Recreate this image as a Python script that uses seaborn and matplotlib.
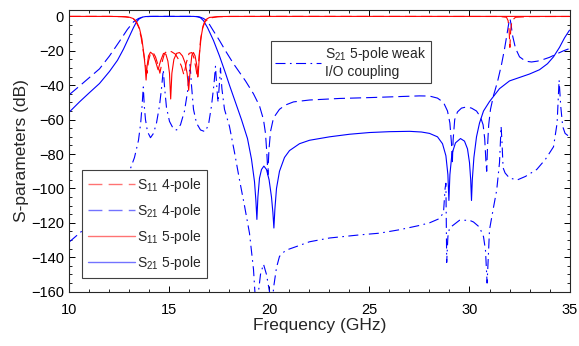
import numpy as np
import pandas as pd
import matplotlib
matplotlib.use("Agg")
import matplotlib.pyplot as plt
import seaborn as sns
from matplotlib.ticker import MultipleLocator
from matplotlib.lines import Line2D

# ---- data (GHz, dB) ----

# S21 5-pole (solid blue)
f_s21_5 = [10.0, 10.5, 11.0, 11.5, 12.0, 12.4, 12.7, 13.0, 13.2, 13.35, 13.5, 13.65, 13.8, 14.0,
           16.2, 16.4, 16.55, 16.7, 16.9, 17.2, 17.5, 17.8, 18.0, 18.3, 18.6, 18.9, 19.1, 19.25,
           19.32, 19.37, 19.42, 19.5, 19.6, 19.72, 19.85, 19.98, 20.1, 20.17, 20.22, 20.27, 20.35,
           20.5, 20.75, 21.0, 21.5, 22.0, 23.0, 24.0, 25.0, 26.0, 27.0, 27.6, 28.0, 28.4, 28.65,
           28.82, 28.92, 28.97, 29.02, 29.12, 29.3, 29.55, 29.75, 29.9, 30.0, 30.06, 30.1, 30.14,
           30.22, 30.35, 30.5, 30.7, 31.0, 31.5, 32.0, 32.5, 33.0, 33.5, 33.9, 34.2, 34.5, 34.75, 35.0]
s21_5 = [-55.5, -49.7, -44.3, -39, -32, -25.5, -19, -11.5, -6.5, -3.2, -1.3, -0.4, -0.1, 0,
         0, -0.2, -0.8, -2.5, -6.5, -14, -23, -33, -40, -50, -60, -71, -83, -96,
         -107, -118, -105, -94, -89, -87, -89, -95, -105, -114, -123, -112, -100,
         -90, -82, -78, -74, -72, -70, -68.5, -67.5, -67, -66.8, -67.2, -68, -70, -74,
         -81, -92, -107, -92, -80, -73.5, -71, -72.5, -77, -85, -95, -107, -95,
         -82, -70, -62, -55, -49.5, -42, -37.5, -35.5, -33.5, -31, -27.5, -23.5, -18, -12.5, -8]

# S21 4-pole (dashed blue)
f_s21_4 = [10.0, 10.5, 11.0, 11.5, 12.0, 12.5, 12.9, 13.2, 13.45, 13.7, 14.0, 14.2,
           16.3, 16.5, 16.7, 16.9, 17.2, 17.5, 17.8, 18.2, 18.8, 19.2, 19.5, 19.7, 19.8, 19.87,
           19.92, 19.97, 20.05, 20.2, 20.5, 20.8, 21.2, 22.0, 23.5, 25.0, 26.5, 27.5, 28.0, 28.4,
           28.7, 28.9, 29.02, 29.1, 29.14, 29.18, 29.26, 29.4, 29.6, 29.86, 30.1, 30.35, 30.55,
           30.68, 30.76, 30.82, 30.86, 30.9, 30.96, 31.05, 31.2, 31.4, 31.6, 31.75, 31.88, 31.97,
           32.02, 32.07, 32.15, 32.3, 32.5, 32.8, 33.1, 33.4, 33.7, 34.0, 34.36, 34.7, 35.0]
s21_4 = [-45.4, -40.5, -35.5, -30.5, -23, -14.5, -7.5, -3.2, -1.2, -0.3, -0.05, 0,
         0, -0.3, -1.2, -2.8, -8.5, -14, -20, -27.5, -37.5, -45, -52, -60, -68, -80,
         -92, -78, -67, -59, -54, -51.5, -49.7, -48.6, -47.7, -47.2, -46.6, -46.2, -46.3, -47.5,
         -50, -55, -62, -74, -86, -72, -60, -55.5, -53.3, -52.6, -53.3, -55, -58.5,
         -63, -71, -84, -90, -76, -63, -54, -46, -38, -28, -19, -10, -3.5,
         -1.2, -4, -11, -18.5, -23.5, -26, -26.5, -26, -25, -23.8, -21.8, -20, -18.7]

# S21 5-pole weak I/O coupling (dash-dot blue)
f_s21_w = [10.0, 10.6, 11.0, 11.5, 12.0, 12.5, 13.0, 13.25, 13.45, 13.56, 13.63, 13.69, 13.74,
           13.8, 13.9, 14.05, 14.2, 14.35, 14.5, 14.6, 14.69, 14.76, 14.85, 15.0, 15.2, 15.36,
           15.55, 15.75, 15.9, 16.03, 16.1, 16.2, 16.35, 16.55, 16.78, 16.95, 17.1, 17.22, 17.3,
           17.37, 17.43, 17.49, 17.55, 17.62, 17.75, 18.0, 18.25, 18.5, 18.75, 19.0, 19.2, 19.27,
           19.35, 19.45, 19.55, 19.7, 19.85, 20.0, 20.1, 20.2, 20.35, 20.5, 20.8, 21.36, 22.0,
           23.0, 24.5, 25.5, 26.5, 27.5, 28.0, 28.5, 28.7, 28.78, 28.82, 28.86, 28.92, 29.0, 29.5,
           30.0, 30.2, 30.5, 30.7, 30.8, 30.88, 30.94, 31.0, 31.2, 31.36, 31.5, 31.58, 31.62,
           31.68, 31.78, 32.0, 32.4, 32.8, 33.36, 33.8, 34.2, 34.38, 34.48, 34.56, 34.66, 34.78, 35.0]
s21_w = [-131, -125, -121, -115, -108.5, -100.5, -90, -82, -72, -62, -52, -41, -52,
         -60, -67, -70.5, -68, -62, -52, -42, -31, -42, -53, -61, -65.5, -66,
         -63, -55, -44, -28, -40, -54, -62, -66, -67, -63, -52, -40, -29,
         -42, -50, -40, -30, -42, -54, -64, -79, -95, -110, -126, -147, -160,
         -180, -160, -150, -144, -150, -160, -180, -158, -146, -139.5, -136, -133.7, -131,
         -128.8, -127, -126, -124, -121.5, -120, -117.5, -114, -100, -97, -143, -128, -123, -118.5,
         -118.5, -119.5, -122.5, -128, -136, -155, -140, -124, -111, -101, -85, -64, -72,
         -88, -91, -94, -95, -93, -89, -83, -75.8, -62, -37, -52, -64, -68, -70]

# S11 5-pole (solid red)
f_s11_5 = [10.0, 12.0, 12.6, 13.0, 13.2, 13.35, 13.5, 13.62, 13.72, 13.79, 13.83, 13.88, 13.95,
           14.05, 14.17, 14.3, 14.43, 14.55, 14.7, 14.82, 14.92, 15.0, 15.06, 15.12, 15.22, 15.35,
           15.5, 15.65, 15.78, 15.88, 15.96, 16.03, 16.12, 16.2, 16.28, 16.36, 16.43, 16.5, 16.58,
           16.68, 16.8, 17.0, 17.5, 18.0, 20.0, 35.0]
s11_5 = [0, -0.01, -0.1, -0.5, -1.3, -3, -7, -13, -22, -30, -37, -29, -23,
         -20.8, -22, -26, -31, -26, -21.5, -22, -26, -33, -48, -33, -25, -21.5,
         -21, -23, -27, -33, -43, -32, -22.5, -21, -23, -28, -35, -22, -12,
         -5.5, -2, -0.6, -0.08, -0.02, 0, 0]

# S11 4-pole (dashed red)
f_s11_4 = [10.0, 12.0, 12.8, 13.1, 13.3, 13.45, 13.58, 13.7, 13.8, 13.88, 13.95, 14.05, 14.18,
           14.3, 14.42, 14.52, 14.62, 14.75, 14.9, 15.1, 15.3, 15.45, 15.6, 15.72, 15.84, 15.98,
           16.12, 16.22, 16.32, 16.4, 16.47, 16.55, 16.65, 16.78, 17.0, 17.4, 18.0, 20.0, 31.5,
           31.85, 31.93, 31.98, 32.02, 32.06, 32.12, 32.3, 33.0, 35.0]
s11_4 = [0, 0, -0.2, -0.8, -2.5, -6, -12, -21, -28, -33, -26, -21.5, -21,
         -23.5, -28, -33, -27, -21.5, -20, -20.5, -22, -25, -29, -34, -27, -21.5,
         -21, -24, -30, -36, -25, -14, -7, -3, -1, -0.2, -0.05, 0, -0.05,
         -0.5, -2.5, -8, -18, -8, -2.5, -0.5, -0.1, -0.05]

labels_main = ['S$_{11}$ 4-pole', 'S$_{21}$ 4-pole', 'S$_{11}$ 5-pole', 'S$_{21}$ 5-pole']
label_weak = 'S$_{21}$ 5-pole weak\nI/O coupling'

# ---- style ----
sns.set_theme(style="ticks")
plt.rcParams['font.family'] = ['Liberation Sans', 'DejaVu Sans']
plt.rcParams['mathtext.default'] = 'regular'
plt.rcParams['xtick.direction'] = 'in'
plt.rcParams['ytick.direction'] = 'in'

DASH = (0, (10, 4.5))
DASHDOT = (0, (9, 4, 1.5, 4))
LW = 0.8

fig = plt.figure(figsize=(5.79, 3.46), dpi=100)
ax = fig.add_axes([0.12, 0.157, 0.8636, 0.8155])

sns.lineplot(x=f_s21_w, y=s21_w, ax=ax, color='blue', lw=LW, linestyle=DASHDOT, estimator=None, sort=False)
sns.lineplot(x=f_s21_4, y=s21_4, ax=ax, color='blue', lw=LW, linestyle=DASH, estimator=None, sort=False)
sns.lineplot(x=f_s21_5, y=s21_5, ax=ax, color='blue', lw=LW, estimator=None, sort=False)
sns.lineplot(x=f_s11_4, y=s11_4, ax=ax, color='red', lw=LW, linestyle=DASH, estimator=None, sort=False)
sns.lineplot(x=f_s11_5, y=s11_5, ax=ax, color='red', lw=LW, estimator=None, sort=False)

ax.set_xlim(10, 35)
ax.set_ylim(-160, 4)
ax.xaxis.set_major_locator(MultipleLocator(5))
ax.xaxis.set_minor_locator(MultipleLocator(1))
ax.yaxis.set_major_locator(MultipleLocator(20))
ax.yaxis.set_minor_locator(MultipleLocator(5))
ax.tick_params(which='both', top=True, right=True, labelsize=10.5, colors='black')
ax.tick_params(which='major', length=4, width=0.7)
ax.tick_params(which='minor', length=2.5, width=0.6)
ax.tick_params(axis='x', which='major', pad=8)
ax.tick_params(axis='y', which='major', pad=4)
for s in ax.spines.values():
    s.set_linewidth(0.8)
    s.set_color('0.15')
ax.set_xlabel('Frequency (GHz)', fontsize=12.5, labelpad=1)
ax.set_ylabel('S-parameters (dB)', fontsize=12.5, labelpad=1)

h_main = [Line2D([], [], color='red', lw=1.0, ls=DASH, alpha=0.55),
          Line2D([], [], color='blue', lw=1.0, ls=DASH, alpha=0.55),
          Line2D([], [], color='red', lw=1.0, alpha=0.55),
          Line2D([], [], color='blue', lw=1.0, alpha=0.55)]
leg1 = ax.legend(h_main, labels_main, loc='lower left', bbox_to_anchor=(0.0244, 0.0496),
                 borderaxespad=0, fancybox=False, edgecolor='0.25', framealpha=1,
                 handlelength=3.4, handletextpad=0.15, labelspacing=0.58, fontsize=10,
                 borderpad=0.42)
leg1.get_frame().set_linewidth(0.8)
ax.add_artist(leg1)

h_weak = [Line2D([], [], color='blue', lw=LW, ls=DASHDOT)]
leg2 = ax.legend(h_weak, [label_weak], loc='upper left', bbox_to_anchor=(0.403, 0.889),
                 borderaxespad=0, fancybox=False, edgecolor='0.25', framealpha=1,
                 handlelength=3.3, handletextpad=0.3, fontsize=10, borderpad=0.3)
leg2.get_frame().set_linewidth(0.8)

fig.savefig('out.png', dpi=100)
